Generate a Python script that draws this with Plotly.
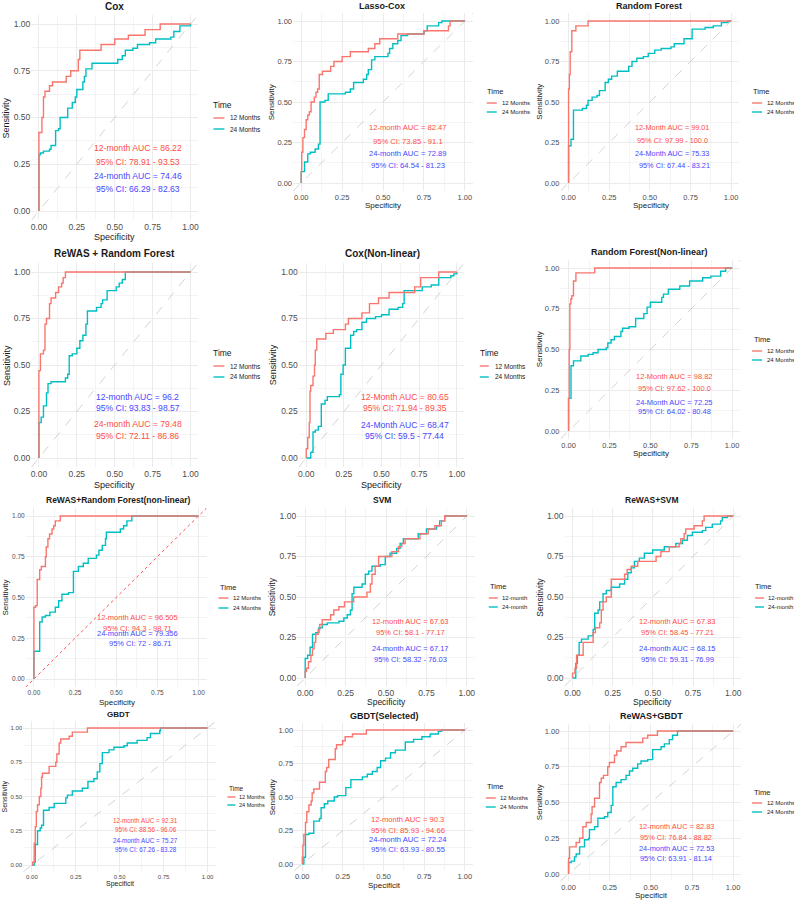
import plotly.graph_objects as go

# ---------------- data (FPR, TPR step points) ----------------
titles = ["Cox", "Lasso-Cox", "Random Forest", "ReWAS + Random Forest", "Cox(Non-linear)",
          "Random Forest(Non-linear)", "ReWAS+Random Forest(non-linear)", "SVM", "ReWAS+SVM",
          "GBDT", "GBDT(Selected)", "ReWAS+GBDT"]

cox_12 = [(0,0),(0,0.42),(0.02,0.50),(0.03,0.61),(0.04,0.64),(0.07,0.67),(0.09,0.69),(0.18,0.72),(0.21,0.75),
          (0.26,0.81),(0.27,0.86),(0.41,0.89),(0.50,0.92),(0.59,0.94),(0.70,0.97),(0.80,1.0),(1,1)]
cox_24 = [(0,0),(0,0.30),(0.01,0.31),(0.03,0.32),(0.07,0.33),(0.08,0.35),(0.11,0.43),(0.13,0.44),(0.14,0.50),
          (0.19,0.55),(0.22,0.58),(0.24,0.61),(0.25,0.65),(0.29,0.69),(0.30,0.72),(0.31,0.76),(0.35,0.79),
          (0.52,0.81),(0.55,0.83),(0.57,0.86),(0.62,0.87),(0.65,0.89),(0.73,0.90),(0.77,0.92),(0.87,0.93),
          (0.89,0.96),(0.93,0.99),(1.0,1.0)]
lasso_12 = [(0,0),(0,0.07),(0.003,0.19),(0.01,0.28),(0.02,0.33),(0.03,0.39),(0.04,0.42),(0.05,0.44),(0.06,0.50),
            (0.08,0.53),(0.09,0.56),(0.10,0.58),(0.11,0.67),(0.13,0.69),(0.18,0.72),(0.20,0.75),(0.25,0.78),
            (0.30,0.81),(0.41,0.83),(0.45,0.86),(0.48,0.89),(0.59,0.92),(0.75,0.94),(0.90,0.97),(0.91,1.0),(1,1)]
lasso_24 = [(0,0),(0,0.07),(0.02,0.13),(0.04,0.18),(0.055,0.19),(0.085,0.21),(0.105,0.24),(0.115,0.50),
            (0.145,0.51),(0.165,0.55),(0.27,0.56),(0.30,0.58),(0.32,0.62),(0.38,0.64),(0.40,0.67),(0.41,0.70),
            (0.43,0.76),(0.45,0.78),(0.53,0.80),(0.54,0.83),(0.56,0.86),(0.59,0.88),(0.61,0.91),(0.65,0.92),
            (0.75,0.94),(0.77,0.97),(0.84,0.99),(0.86,1.0),(1,1)]
rf_12 = [(0,0),(0,0.58),(0.005,0.67),(0.01,0.81),(0.02,0.94),(0.045,0.97),(0.12,1.0),(1,1)]
rf_24 = [(0,0),(0,0.23),(0.015,0.27),(0.03,0.45),(0.085,0.46),(0.11,0.48),(0.12,0.51),(0.145,0.53),(0.175,0.54),
         (0.19,0.57),(0.225,0.62),(0.245,0.64),(0.265,0.66),(0.30,0.69),(0.37,0.72),(0.39,0.75),(0.42,0.77),
         (0.46,0.78),(0.49,0.80),(0.53,0.82),(0.57,0.83),(0.63,0.84),(0.65,0.86),(0.71,0.89),(0.76,0.95),
         (0.84,0.96),(0.89,0.97),(0.94,0.99),(0.98,1.0),(1,1)]
rwrf_12 = [(0,0),(0,0.47),(0.01,0.56),(0.03,0.58),(0.04,0.72),(0.05,0.75),(0.07,0.83),(0.08,0.86),(0.11,0.89),
           (0.13,0.92),(0.15,0.94),(0.16,0.97),(0.175,1.0),(1,1)]
rwrf_24 = [(0,0),(0,0.19),(0.015,0.22),(0.03,0.28),(0.05,0.35),(0.06,0.40),(0.08,0.41),(0.175,0.43),(0.19,0.45),
           (0.20,0.55),(0.22,0.56),(0.25,0.59),(0.27,0.63),(0.29,0.66),(0.31,0.72),(0.32,0.79),(0.38,0.81),
           (0.41,0.83),(0.42,0.85),(0.45,0.90),(0.51,0.92),(0.53,0.94),(0.55,0.96),(0.57,1.0),(1,1)]
coxnl_12 = [(0,0),(0,0.05),(0.01,0.11),(0.02,0.19),(0.025,0.36),(0.03,0.39),(0.045,0.44),(0.055,0.50),(0.06,0.58),
            (0.07,0.64),(0.13,0.67),(0.18,0.69),(0.26,0.72),(0.28,0.75),(0.37,0.78),(0.42,0.83),(0.48,0.86),
            (0.55,0.89),(0.72,0.92),(0.76,0.97),(0.88,1.0),(1,1)]
coxnl_24 = [(0,0),(0.03,0.03),(0.045,0.14),(0.06,0.15),(0.08,0.17),(0.10,0.29),(0.125,0.31),(0.14,0.33),
            (0.22,0.34),(0.23,0.45),(0.245,0.50),(0.26,0.59),(0.295,0.66),(0.315,0.68),(0.335,0.69),(0.37,0.73),
            (0.40,0.75),(0.46,0.76),(0.50,0.77),(0.55,0.80),(0.61,0.81),(0.64,0.83),(0.65,0.90),(0.77,0.92),
            (0.83,0.93),(0.88,0.97),(0.96,0.98),(0.98,0.99),(1.0,1.0)]
rfnl_12 = [(0,0),(0,0.20),(0.004,0.50),(0.008,0.78),(0.014,0.81),(0.02,0.83),(0.03,0.92),(0.045,0.97),(0.16,1.0),(1,1)]
rfnl_24 = [(0,0),(0,0.20),(0.015,0.40),(0.03,0.43),(0.075,0.46),(0.12,0.47),(0.15,0.48),(0.18,0.50),(0.23,0.51),
           (0.24,0.54),(0.26,0.56),(0.28,0.58),(0.32,0.61),(0.33,0.63),(0.37,0.64),(0.41,0.69),(0.46,0.72),
           (0.48,0.76),(0.50,0.79),(0.57,0.82),(0.58,0.84),(0.61,0.87),(0.68,0.89),(0.74,0.92),(0.82,0.94),
           (0.87,0.95),(0.93,0.98),(0.96,1.0),(1,1)]
rwrfnl_12 = [(0,0),(0,0.44),(0.01,0.45),(0.02,0.61),(0.035,0.67),(0.045,0.69),(0.07,0.75),(0.075,0.81),
             (0.085,0.86),(0.095,0.89),(0.11,0.92),(0.12,0.94),(0.13,0.97),(0.16,1.0),(1,1)]
rwrfnl_24 = [(0,0),(0,0.17),(0.035,0.35),(0.05,0.38),(0.07,0.39),(0.097,0.41),(0.13,0.44),(0.15,0.48),(0.17,0.52),
             (0.21,0.53),(0.24,0.66),(0.27,0.69),(0.30,0.71),(0.33,0.74),(0.38,0.76),(0.395,0.79),(0.415,0.82),
             (0.435,0.86),(0.44,0.90),(0.525,0.92),(0.545,0.94),(0.565,0.97),(0.595,1.0),(1,1)]
svm_12 = [(0,0),(0,0.04),(0.008,0.06),(0.02,0.10),(0.035,0.14),(0.045,0.18),(0.055,0.22),(0.065,0.27),(0.08,0.30),
          (0.09,0.33),(0.105,0.36),(0.157,0.39),(0.177,0.42),(0.208,0.44),(0.243,0.47),(0.30,0.50),(0.382,0.53),
          (0.403,0.58),(0.413,0.64),(0.433,0.69),(0.454,0.75),(0.536,0.78),(0.577,0.81),(0.597,0.83),(0.618,0.86),
          (0.710,0.89),(0.761,0.92),(0.802,0.94),(0.843,0.97),(0.863,1.0),(1,1)]
svm_24 = [(0,0),(0,0.12),(0.015,0.14),(0.03,0.19),(0.045,0.27),(0.065,0.28),(0.085,0.31),(0.105,0.33),(0.137,0.34),
          (0.209,0.35),(0.239,0.37),(0.260,0.39),(0.280,0.42),(0.290,0.52),(0.301,0.56),(0.352,0.58),(0.372,0.64),
          (0.393,0.66),(0.413,0.69),(0.464,0.70),(0.495,0.75),(0.525,0.77),(0.566,0.80),(0.587,0.83),(0.607,0.86),
          (0.699,0.89),(0.750,0.92),(0.812,0.94),(0.832,0.97),(0.863,1.0),(1,1)]
rwsvm_12 = [(0,0),(0,0.03),(0.015,0.06),(0.025,0.14),(0.066,0.22),(0.128,0.28),(0.142,0.31),(0.169,0.34),
            (0.179,0.42),(0.190,0.47),(0.21,0.50),(0.241,0.61),(0.324,0.64),(0.340,0.67),(0.365,0.69),(0.406,0.72),
            (0.520,0.75),(0.550,0.78),(0.602,0.81),(0.664,0.83),(0.674,0.86),(0.695,0.89),(0.705,0.92),
            (0.757,0.94),(0.808,0.97),(0.819,1.0),(1,1)]
rwsvm_24 = [(0,0),(0.02,0.09),(0.03,0.14),(0.041,0.22),(0.056,0.24),(0.097,0.26),(0.128,0.30),(0.138,0.40),
            (0.159,0.42),(0.169,0.47),(0.190,0.52),(0.210,0.54),(0.241,0.56),(0.293,0.58),(0.324,0.61),(0.344,0.65),
            (0.365,0.68),(0.385,0.72),(0.416,0.74),(0.447,0.77),(0.499,0.79),(0.571,0.81),(0.643,0.83),(0.684,0.85),
            (0.715,0.88),(0.746,0.90),(0.808,0.91),(0.829,0.93),(0.870,0.95),(0.922,0.97),(0.932,0.99),(0.963,1.0),(1,1)]
gbdt_12 = [(0,0),(0.004,0.02),(0.013,0.16),(0.019,0.28),(0.025,0.39),(0.032,0.44),(0.042,0.50),(0.051,0.56),
           (0.055,0.64),(0.060,0.67),(0.098,0.72),(0.136,0.75),(0.142,0.81),(0.155,0.89),(0.164,0.92),(0.212,0.94),
           (0.230,0.97),(0.316,1.0),(1,1)]
gbdt_24 = [(0,0),(0.013,0.02),(0.019,0.15),(0.032,0.25),(0.047,0.27),(0.055,0.29),(0.066,0.40),(0.098,0.42),
           (0.127,0.45),(0.193,0.49),(0.202,0.51),(0.230,0.54),(0.287,0.56),(0.319,0.61),(0.353,0.63),(0.372,0.68),
           (0.387,0.74),(0.401,0.82),(0.439,0.84),(0.467,0.86),(0.524,0.87),(0.543,0.89),(0.599,0.91),(0.656,0.93),
           (0.675,0.96),(0.728,0.98),(0.732,1.0),(1,1)]
gbdts_12 = [(0,0),(0,0.05),(0.004,0.14),(0.01,0.22),(0.02,0.31),(0.028,0.39),(0.041,0.44),(0.055,0.47),(0.061,0.53),
            (0.071,0.56),(0.106,0.61),(0.142,0.69),(0.150,0.72),(0.163,0.78),(0.203,0.86),(0.211,0.89),(0.248,0.92),
            (0.264,0.95),(0.309,0.97),(0.394,1.0),(1,1)]
gbdts_24 = [(0,0),(0.01,0.05),(0.02,0.22),(0.041,0.23),(0.071,0.32),(0.106,0.34),(0.116,0.42),(0.136,0.45),
            (0.157,0.47),(0.197,0.50),(0.217,0.51),(0.268,0.57),(0.299,0.63),(0.370,0.65),(0.400,0.67),(0.431,0.69),
            (0.461,0.72),(0.482,0.77),(0.512,0.79),(0.543,0.83),(0.573,0.85),(0.634,0.91),(0.685,0.93),(0.736,0.95),
            (0.787,0.97),(0.837,0.99),(0.858,1.0),(1,1)]
rwgbdt_12 = [(0,0),(0,0.11),(0.006,0.19),(0.046,0.22),(0.067,0.25),(0.087,0.33),(0.107,0.36),(0.137,0.42),
             (0.143,0.47),(0.158,0.53),(0.188,0.64),(0.198,0.67),(0.212,0.69),(0.238,0.75),(0.248,0.78),(0.279,0.83),
             (0.293,0.86),(0.319,0.89),(0.349,0.92),(0.451,0.95),(0.481,0.97),(0.54,1.0),(1,1)]
rwgbdt_24 = [(0,0),(0,0.08),(0.016,0.09),(0.036,0.12),(0.046,0.14),(0.067,0.19),(0.097,0.24),(0.123,0.25),
             (0.127,0.31),(0.158,0.33),(0.178,0.39),(0.218,0.40),(0.238,0.43),(0.259,0.48),(0.269,0.61),(0.289,0.64),
             (0.319,0.66),(0.349,0.69),(0.370,0.72),(0.390,0.74),(0.420,0.77),(0.440,0.79),(0.481,0.80),(0.511,0.87),
             (0.562,0.89),(0.582,0.91),(0.612,0.94),(0.632,0.97),(0.662,1.0),(1,1)]

curves_12 = [cox_12, lasso_12, rf_12, rwrf_12, coxnl_12, rfnl_12, rwrfnl_12, svm_12, rwsvm_12, gbdt_12, gbdts_12, rwgbdt_12]
curves_24 = [cox_24, lasso_24, rf_24, rwrf_24, coxnl_24, rfnl_24, rwrfnl_24, svm_24, rwsvm_24, gbdt_24, gbdts_24, rwgbdt_24]

auc_texts = [
    ["12-month AUC = 86.22", "95% CI: 78.91 - 93.53", "24-month AUC = 74.46", "95% CI: 66.29 - 82.63"],
    ["12-month AUC = 82.47", "95% CI: 73.85 - 91.1", "24-month AUC = 72.89", "95% CI: 64.54 - 81.23"],
    ["12-Month AUC = 99.01", "95% CI: 97.99 - 100.0", "24-Month AUC = 75.33", "95% CI: 67.44 - 83.21"],
    ["12-month AUC = 96.2", "95% CI: 93.83 - 98.57", "24-month AUC = 79.48", "95% CI: 72.11 - 86.86"],
    ["12-Month AUC = 80.65", "95% CI: 71.94 - 89.35", "24-Month AUC = 68.47", "95% CI: 59.5 - 77.44"],
    ["12-Month AUC = 98.82", "95% CI: 97.62 - 100.0", "24-Month AUC = 72.25", "95% CI: 64.02 - 80.48"],
    ["12-month AUC = 96.505", "95% CI: 94.3 - 98.71", "24-month AUC = 79.356", "95% CI: 72 - 86.71"],
    ["12-month AUC = 67.63", "95% CI: 58.1 - 77.17", "24-month AUC = 67.17", "95% CI: 58.32 - 76.03"],
    ["12-month AUC = 67.83", "95% CI: 58.45 - 77.21", "24-month AUC = 68.15", "95% CI: 59.31 - 76.99"],
    ["12-month AUC = 92.31", "95% CI: 88.56 - 96.06", "24-month AUC = 75.27", "95% CI: 67.26 - 83.28"],
    ["12-month AUC = 90.3", "95% CI: 85.93 - 94.66", "24-month AUC = 72.24", "95% CI: 63.93 - 80.55"],
    ["12-month AUC = 82.83", "95% CI: 76.84 - 88.82", "24-month AUC = 72.53", "95% CI: 63.91 - 81.14"],
]
legend_labels = [["12 Months", "24 Months"]] * 7 + [["12-month", "24-month"]] * 2 + [["12 Months", "24 Months"]] * 3
x_titles = ["Specificity"] * 9 + ["Specificit"] * 3
tick_vals = [0, 0.25, 0.5, 0.75, 1.0]
tick_text = ["0.00", "0.25", "0.50", "0.75", "1.00"]

# ---------------- layout geometry (pixels) ----------------
W, H = 794, 901
RED, TEAL = "#F8766D", "#00BFC4"
TRED, TBLUE = "#FF4D45", "#4747FF"
FONT = "Liberation Sans, Arial, sans-serif"

# x0, x1 (px of value 0 and 1), y1, y0 (px of value 1 and 0)
geom = [(38,190,24,211),(301,465,21,183),(569,732,21,183),
        (38,190,272,458),(306,457,272,458),(569,733,268,431),
        (33,198,516,679),(305,467,516,678),(573,734,516,678),
        (31,207,728,865),(302,465,730,864),(569,734,731,874)]
# tick, title, axis-title, auc, legend-title, legend-text font sizes
fonts = [(8.5,10,9,8.6,8.5,6.5),(7.5,9,8,7.6,7.5,6),(7.5,9,8,7.3,7.5,6),
         (8.5,10,9,8.6,8.5,6.5),(8.5,10,9,8.6,8.5,6.5),(7.5,9,8,7.5,7.5,6),
         (6.5,8.5,8,7.5,7.5,6),(8.5,8.5,8.5,7.5,7.5,6),(8.5,8.5,8.5,7.5,7.5,6),
         (6,8,7,6.3,6.5,5.5),(7.5,9,8,7.6,7.5,6),(7.5,9,8,7.4,7.5,6)]
title_pos = [(114,7),(382,6),(650,6),(114,253),(382,253),(650,252),(117,500),(382,500),(653,500),
             (118,714),(384,716),(652,716)]
xlab_pos = [(114,237),(383,206),(652,206),(114,485),(381,485),(652,453),(116,702),(386,702),(653,702),
            (119,884),(384,885),(652,895)]
ylab_x = [6,272,540,6,273,540,5,272,540,4,272,540]
auc_pos = [[(137,148),(137,162),(137,176),(137,189)],
           [(408,128),(408,141),(408,154),(408,165)],
           [(673,128),(673,140),(673,154),(675,165)],
           [(137,397),(137,408),(137,424),(137,436)],
           [(405,397),(405,408),(405,425),(405,436)],
           [(675,377),(675,388),(675,402),(675,412)],
           [(137,617),(137,628),(137,633),(140,643)],
           [(411,621),(411,632),(411,648),(411,659)],
           [(678,621),(678,632),(678,648),(678,659)],
           [(145,820),(145,829),(145,840),(145,849)],
           [(408,819),(408,830),(408,839),(408,849)],
           [(677,826),(677,837),(677,848),(677,858)]]
auc_colors = [[TRED,TRED,TBLUE,TBLUE]] * 3 + [[TBLUE,TBLUE,TRED,TRED]] + [[TRED,TRED,TBLUE,TBLUE]] * 8
# legend: Time (x,y), line x-start, line x-end, label x, entry y1, entry y2
leg = [(211,105,213,224,228,118,129),(485,91,487,497,500,103,112),(752,91,753,763,766,103,112),
       (211,353,213,224,228,366,377),(478,353,480,489,493,366,377),(753,339,753,763,766,351,360),
       (218,587,218,228,231,598,608),(488,586,489,498,500,598,607),(754,586,756,765,767,598,607),
       (227,788,227,235,237,797,805),(485,786,486,496,498,798,807),(753,792,753,763,766,803,812)]

def px(x): return x / W
def py(y): return 1 - y / H

fig = go.Figure()
annotations, shapes = [], []
layout_axes = {}

for i in range(12):
    sfx = "" if i == 0 else str(i + 1)
    x0, x1, y1, y0 = geom[i]
    ux, uy = x1 - x0, y0 - y1
    left, right = x0 - 0.05 * ux, x1 + 0.05 * ux
    top, bottom = y1 - 0.05 * uy, y0 + 0.05 * uy
    tfs, ttl, afs, aucfs, ltfs, lfs = fonts[i]

    common = dict(range=[-0.05, 1.05], tickvals=tick_vals, ticktext=tick_text, showgrid=True,
                  gridcolor="#EBEBEB", gridwidth=0.8, zeroline=False, showline=False, ticks="",
                  tickfont=dict(size=tfs, color="#4D4D4D", family=FONT), fixedrange=True,
                  minor=dict(tick0=0, dtick=0.125, showgrid=True, gridcolor="#F4F4F4", gridwidth=0.5))
    layout_axes["xaxis" + sfx] = dict(common, domain=[px(left), px(right)], anchor="y" + sfx)
    layout_axes["yaxis" + sfx] = dict(common, domain=[py(bottom), py(top)], anchor="x" + sfx)

    diag_style = dict(color="#FF5050", width=1.0, dash="dot") if i == 6 else dict(color="#C8C8C8", width=0.8, dash="dash")
    fig.add_trace(go.Scatter(x=[-0.05, 1.05], y=[-0.05, 1.05], mode="lines", line=diag_style,
                             xaxis="x" + sfx, yaxis="y" + sfx, showlegend=False, hoverinfo="skip"))
    for data, col, lab in ((curves_24[i], TEAL, legend_labels[i][1]), (curves_12[i], RED, legend_labels[i][0])):
        fig.add_trace(go.Scatter(x=[p[0] for p in data], y=[p[1] for p in data], mode="lines",
                                 line=dict(color=col, width=1.4, shape="hv"), name=lab,
                                 xaxis="x" + sfx, yaxis="y" + sfx, showlegend=False))

    # title
    annotations.append(dict(text="<b>%s</b>" % titles[i], x=px(title_pos[i][0]), y=py(title_pos[i][1]),
                            xref="paper", yref="paper", showarrow=False, xanchor="center", yanchor="middle",
                            font=dict(size=ttl, color="#1A1A1A", family=FONT)))
    # axis titles
    annotations.append(dict(text=x_titles[i], x=px(xlab_pos[i][0]), y=py(xlab_pos[i][1]), xref="paper",
                            yref="paper", showarrow=False, xanchor="center", yanchor="middle",
                            font=dict(size=afs, color="#1A1A1A", family=FONT)))
    annotations.append(dict(text="Sensitivity", x=px(ylab_x[i]), y=py((top + bottom) / 2), xref="paper",
                            yref="paper", showarrow=False, xanchor="center", yanchor="middle", textangle=-90,
                            font=dict(size=afs, color="#1A1A1A", family=FONT)))
    # AUC texts
    for t, (ax_, ay_), c in zip(auc_texts[i], auc_pos[i], auc_colors[i]):
        annotations.append(dict(text=t, x=px(ax_), y=py(ay_), xref="paper", yref="paper", showarrow=False,
                                xanchor="center", yanchor="middle", font=dict(size=aucfs, color=c, family=FONT)))
    # legend (drawn manually)
    tx, ty, lx0, lx1, labx, e1, e2 = leg[i]
    annotations.append(dict(text="Time", x=px(tx), y=py(ty), xref="paper", yref="paper", showarrow=False,
                            xanchor="left", yanchor="middle", font=dict(size=ltfs, color="#1A1A1A", family=FONT)))
    for ey, col, lab in ((e1, RED, legend_labels[i][0]), (e2, TEAL, legend_labels[i][1])):
        shapes.append(dict(type="line", xref="paper", yref="paper", x0=px(lx0), x1=px(lx1), y0=py(ey), y1=py(ey),
                           line=dict(color=col, width=1.4)))
        annotations.append(dict(text=lab, x=px(labx), y=py(ey), xref="paper", yref="paper", showarrow=False,
                                xanchor="left", yanchor="middle", font=dict(size=lfs, color="#1A1A1A", family=FONT)))

fig.update_layout(width=W, height=H, margin=dict(l=0, r=0, t=0, b=0), paper_bgcolor="white",
                  plot_bgcolor="white", showlegend=False, annotations=annotations, shapes=shapes,
                  font=dict(family=FONT), **layout_axes)
fig.write_html("out.html")
